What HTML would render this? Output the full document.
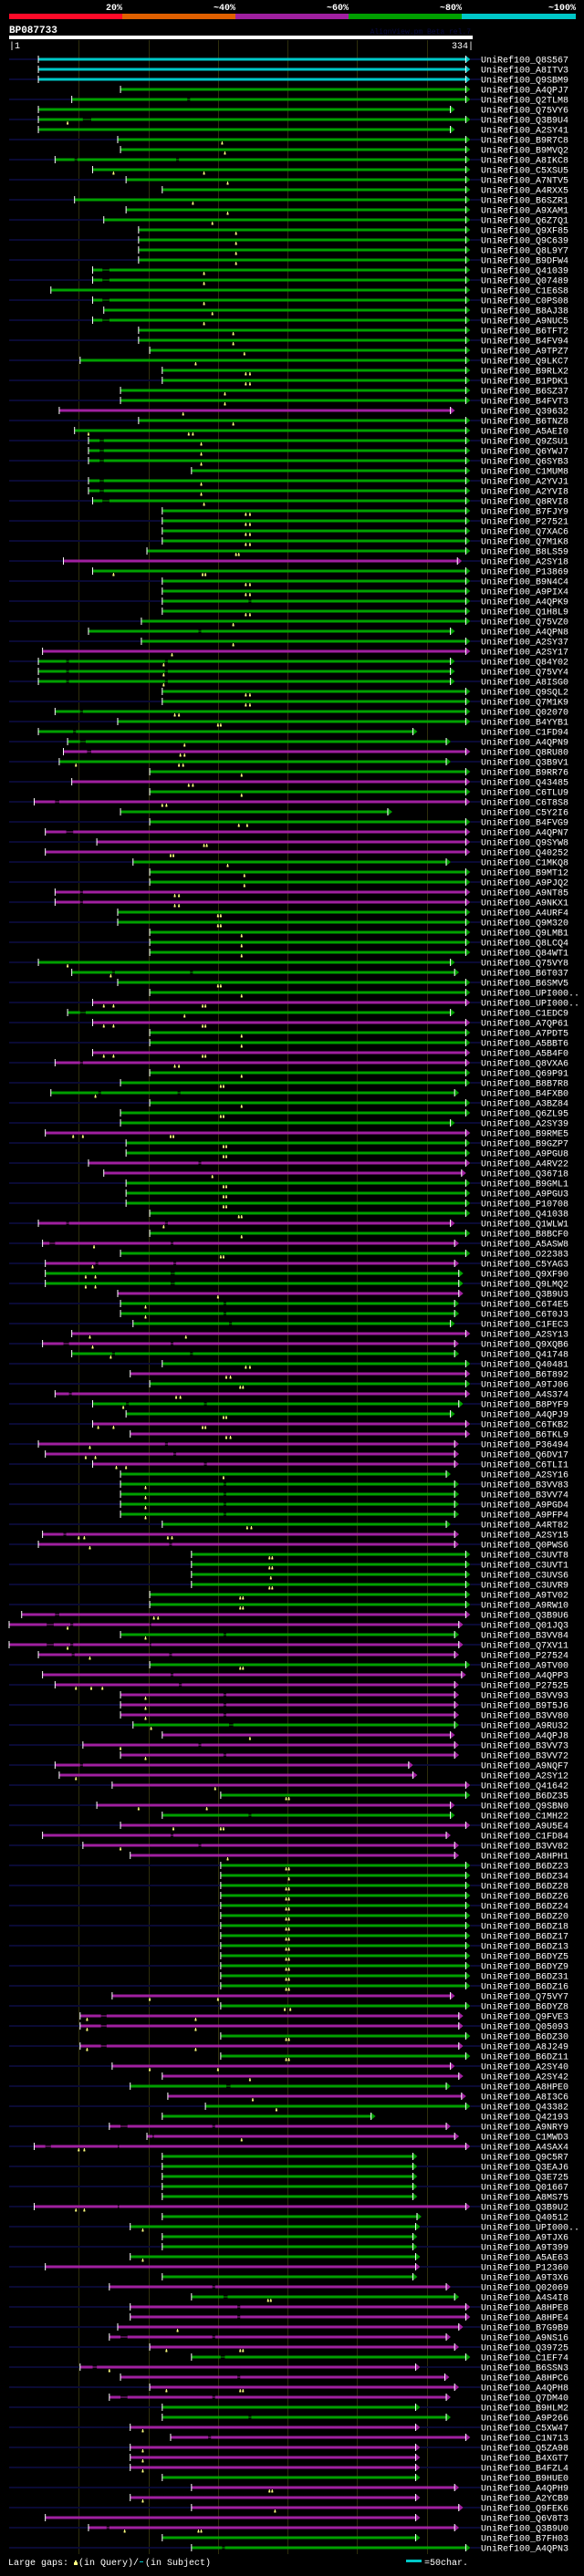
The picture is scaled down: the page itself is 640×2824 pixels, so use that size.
<!DOCTYPE html>
<html><head><meta charset="utf-8">
<style>
html,body{margin:0;padding:0;background:#000;}
body{width:640px;height:2819px;overflow:hidden;}
svg text{font-family:"Liberation Mono","DejaVu Sans Mono",monospace;}
</style></head>
<body>
<svg id="chart" width="640" height="2819" xmlns="http://www.w3.org/2000/svg">
<rect x="0" y="0" width="640" height="2819" fill="#000"/>
<g>
<rect x="10" y="15" width="124" height="6" fill="#ff0a28"/>
<rect x="134" y="15" width="124" height="6" fill="#e06000"/>
<rect x="258" y="15" width="124" height="6" fill="#a020a0"/>
<rect x="382" y="15" width="124" height="6" fill="#00a000"/>
<rect x="506" y="15" width="125" height="6" fill="#00c8c8"/>
<text x="134" y="11" fill="#fff" font-size="10" font-weight="bold" text-anchor="end">20%</text>
<text x="258" y="11" fill="#fff" font-size="10" font-weight="bold" text-anchor="end">~40%</text>
<text x="382" y="11" fill="#fff" font-size="10" font-weight="bold" text-anchor="end">~60%</text>
<text x="506" y="11" fill="#fff" font-size="10" font-weight="bold" text-anchor="end">~80%</text>
<text x="631" y="11" fill="#fff" font-size="10" font-weight="bold" text-anchor="end">~100%</text>
</g>
<text x="10" y="36" fill="#fff" font-size="11" font-weight="bold">BP087733</text>
<text x="516" y="37" fill="#0a0a40" font-size="8" text-anchor="end">AlignView.pm Beta rel.7</text>
<rect x="10" y="39" width="508" height="4" fill="#fff"/>
<text x="10" y="53" fill="#fff" font-size="10">|1</text>
<text x="519" y="53" fill="#fff" font-size="10" text-anchor="end">334|</text>
<g id="grid"></g>
<g id="rows"></g>
<g>
<text x="9" y="2812" fill="#fff" font-size="10">Large gaps:</text>
<rect x="82" y="2807" width="2" height="2" fill="#ffff80"/><rect x="81" y="2809" width="4" height="3" fill="#ffff80"/>
<text x="86" y="2812" fill="#fff" font-size="10">(in Query)/</text>
<rect x="153" y="2808" width="4" height="1" fill="#00c8c8"/>
<text x="159" y="2812" fill="#fff" font-size="10">(in Subject)</text>
<rect x="445" y="2806" width="17" height="3" fill="#00c8c8"/>
<text x="465" y="2812" fill="#fff" font-size="10">=50char.</text>
</g>
</svg>
<script>
const queryLen = 334;
const gridTicks = [51,101,151,201,251,301];
// rows: [name, colour, leftExt, start, end, gaps[[a,b]], queryGapMarks[]]
const rows = [
["Q8S567","c",1,22,329,[],[]],["A8ITV3","c",0,22,329,[],[]],["Q9SBM9","c",1,22,329,[],[]],
["A4QPJ7","g",0,81,329,[],[]],["Q2TLM8","g",1,46,329,[[129,131]],[]],["Q75VY6","g",0,22,318,[],[]],
["Q3B9U4","g",1,22,329,[[54,60]],[43]],["A2SY41","g",0,22,318,[],[]],["B9R7C8","g",1,79,329,[],[154]],
["B9MVQ2","g",0,81,329,[],[156]],["A8IKC8","g",1,34,329,[[48,50],[121,123]],[]],["C5XSU5","g",0,61,329,[],[76,141]],
["A7NTV5","g",1,85,329,[],[158]],["A4RXX5","g",0,111,329,[],[]],["B6SZR1","g",1,48,329,[],[133]],
["A9XAM1","g",0,85,329,[],[158]],["Q6Z7Q1","g",1,69,329,[],[147]],["Q9XF85","g",0,94,329,[],[164]],
["Q9C639","g",1,94,329,[],[164]],["Q8L9Y7","g",0,94,329,[],[164]],["B9DFW4","g",1,94,329,[],[164]],
["Q41039","g",0,61,329,[[68,73]],[141]],["Q07489","g",1,61,329,[[68,73]],[141]],["C1E6S8","g",0,31,329,[],[]],
["C0PS08","g",1,61,329,[[68,73]],[141]],["B8AJ38","g",0,69,329,[],[147]],["A9NUC5","g",1,61,329,[[68,73]],[141]],
["B6TFT2","g",0,94,329,[],[162]],["B4FV94","g",1,94,329,[],[162]],["A9TPZ7","g",0,102,329,[],[170]],
["Q9LKC7","g",1,52,329,[],[135]],["B9RLX2","g",0,111,329,[],[171,174]],["B1PDK1","g",1,111,329,[],[171,174]],
["B6SZ37","g",0,81,329,[],[156]],["B4FVT3","g",1,81,329,[],[156]],["Q39632","m",0,37,318,[],[126]],
["B6TNZ8","g",1,94,329,[],[162]],["A5AEI0","g",0,48,329,[],[58,130,133]],["Q9ZSU1","g",1,58,329,[[66,69]],[139]],
["Q6YWJ7","g",0,58,329,[[66,69]],[139]],["Q6SYB3","g",1,58,329,[[66,69]],[139]],["C1MUM8","g",0,132,329,[],[]],
["A2YVJ1","g",1,58,329,[[66,69]],[139]],["A2YVI8","g",0,58,329,[[66,69]],[139]],["Q8RVI8","g",1,61,329,[[68,73]],[141]],
["B7FJY9","g",0,111,329,[],[171,174]],["P27521","g",1,111,329,[],[171,174]],["Q7XAC6","g",0,111,329,[],[171,174]],
["Q7M1K8","g",1,111,329,[],[171,174]],["B8LS59","g",0,100,329,[],[164,166]],["A2SY18","m",1,40,323,[],[]],
["P13869","g",0,61,329,[],[76,140,142]],["B9N4C4","g",1,111,329,[],[171,174]],["A9PIX4","g",0,111,329,[],[171,174]],
["A4QPK9","g",1,111,329,[[173,175]],[]],["Q1H8L9","g",0,111,329,[],[171,174]],["Q75VZ0","g",1,96,329,[],[162]],
["A4QPN8","g",0,58,318,[[137,139]],[]],["A2SY37","g",1,96,329,[],[162]],["A2SY17","m",0,25,329,[],[118]],
["Q84Y02","g",1,22,318,[[42,44],[113,115]],[112]],["Q75VY4","g",0,22,318,[[42,44],[113,115]],[112]],["A8ISG0","g",1,22,318,[[42,44],[113,115]],[112]],
["Q9SQL2","g",0,111,329,[],[171,174]],["Q7M1K9","g",1,111,329,[],[171,174]],["Q02070","g",0,34,329,[[52,54]],[120,123]],
["B4YYB1","g",1,79,329,[],[151,153]],["C1FD94","g",0,22,291,[[47,49]],[]],["A4QPN9","g",1,43,315,[[52,56]],[127]],
["Q8RU80","m",0,40,329,[[57,60]],[124,127]],["Q3B9V1","g",1,37,315,[],[49,123,126]],["B9RR76","g",0,102,329,[],[168]],
["Q43485","m",1,46,329,[],[130,133]],["C6TLU9","g",0,102,329,[],[168]],["C6T8S8","m",1,19,329,[[34,37]],[111,114]],
["C5Y2I6","g",0,81,273,[],[]],["B4FVG9","g",1,102,329,[],[166,172]],["A4QPN7","m",0,27,329,[[42,47]],[]],
["Q9SYW8","m",1,64,329,[],[141,143]],["Q40252","m",0,27,329,[],[117,119]],["C1MKQ8","g",1,90,315,[],[158]],
["B9MT12","g",0,102,329,[],[170]],["A9PJQ2","g",1,102,329,[],[170]],["A9NT85","m",0,34,329,[[52,54]],[120,123]],
["A9NKX1","m",1,34,329,[[52,54]],[120,123]],["A4URF4","g",0,79,329,[],[151,153]],["Q9M320","g",1,79,329,[],[151,153]],
["Q9LMB1","g",0,102,329,[],[168]],["Q8LCQ4","g",1,102,329,[],[168]],["Q84WT1","g",0,102,329,[],[168]],
["Q75VY8","g",1,22,318,[],[43]],["B6T037","g",0,46,321,[[75,77],[131,133]],[74]],["B6SMV5","g",1,79,329,[],[151,153]],
["UPI000..","g",0,102,329,[],[168]],["UPI000..","m",1,61,329,[],[69,76,140,142]],["C1EDC9","g",0,43,318,[[52,56]],[127]],
["A7QP61","m",1,61,329,[],[69,76,140,142]],["A7PDT5","g",0,102,329,[],[168]],["A5BBT6","g",1,102,329,[],[168]],
["A5B4F0","m",0,61,329,[],[69,76,140,142]],["Q8VXA6","m",1,34,329,[[52,54]],[120,123]],["Q69P91","g",0,102,329,[],[168]],
["B8B7R8","g",1,81,329,[],[153,155]],["B4FXB0","g",0,31,321,[[65,67],[122,124]],[63]],["A3BZ84","g",1,102,329,[],[168]],
["Q6ZL95","g",0,81,329,[],[153,155]],["A2SY39","g",1,81,318,[],[]],["B9RME5","m",0,27,329,[],[47,54,117,119]],
["B9GZP7","g",1,85,329,[],[155,157]],["A9PGU8","g",0,85,329,[],[155,157]],["A4RV22","m",1,58,329,[[137,139]],[]],
["Q36718","m",0,69,326,[],[147]],["B9GML1","g",1,85,329,[],[155,157]],["A9PGU3","g",0,85,329,[],[155,157]],
["P10708","g",1,85,329,[],[155,157]],["Q41038","g",0,102,329,[],[166,168]],["Q1WLW1","m",1,22,318,[[42,44],[113,115]],[112]],
["B8BCF0","g",0,102,329,[],[168]],["A5ASW8","m",1,25,321,[[30,34],[117,119]],[62]],["O22383","g",0,81,329,[],[153,155]],
["C5YAG3","m",1,27,321,[[63,65],[119,121]],[61]],["Q9XF90","g",0,27,324,[[117,120]],[56,63]],["Q9LMQ2","g",1,27,324,[[117,120]],[56,63]],
["Q3B9U3","m",0,79,324,[],[151]],["C6T4E5","g",1,81,321,[[155,157]],[99]],["C6T0J3","g",0,81,321,[[155,157]],[99]],
["C1FEC3","g",1,90,318,[[159,161]],[]],["A2SY13","m",0,46,329,[],[59,128]],["Q9XQB6","m",1,25,321,[[40,44],[117,119]],[61]],
["Q41748","g",0,46,321,[[75,77],[131,133]],[74]],["Q40481","g",1,111,329,[],[171,174]],["B6T892","m",0,88,329,[],[157,160]],
["A9TJ06","g",1,102,329,[],[167,169]],["A4S374","m",0,34,329,[[44,46]],[121,124]],["B8PYF9","g",1,61,324,[[85,87],[141,143]],[83]],
["A4QPJ9","g",0,85,318,[],[155,157]],["C6TKB2","m",1,61,329,[],[65,76,140,142]],["B6TKL9","m",0,88,329,[],[157,160]],
["P36494","m",1,22,321,[[113,115]],[59]],["Q6DV17","m",0,27,321,[[119,121]],[56,63]],["C6TLI1","m",1,61,321,[[141,143]],[78,85]],
["A2SY16","g",0,81,315,[],[155]],["B3VV83","g",1,81,321,[[155,157]],[99]],["B3VV74","g",0,81,321,[[155,157]],[99]],
["A9PGD4","g",1,81,321,[[155,157]],[99]],["A9PFP4","g",0,81,321,[[155,157]],[99]],["A4RT82","g",1,111,315,[],[172,175]],
["A2SY15","m",0,25,321,[[40,42]],[51,55,115,118]],["Q0PWS6","m",1,22,321,[[116,118]],[59]],["C3UVT8","g",0,132,329,[],[188,190]],
["C3UVT1","g",1,132,329,[],[188,190]],["C3UVS6","g",0,132,329,[],[189]],["C3UVR9","g",1,132,329,[],[188,190]],
["A9TV02","g",0,102,329,[],[167,169]],["A9RW10","g",1,102,329,[],[167,169]],["Q3B9U6","m",0,10,329,[[34,37]],[105,108]],
["Q01JQ3","m",1,1,324,[[28,33],[45,47],[102,103]],[43]],["B3VV84","g",0,81,321,[[155,157]],[99]],["Q7XV11","m",1,1,324,[[28,33],[45,47],[102,103]],[43]],
["P27524","m",0,22,321,[[46,48],[116,118]],[59]],["A9TV00","g",1,102,329,[],[167,169]],["A4QPP3","m",0,25,326,[[117,119]],[]],
["P27525","m",1,34,321,[[123,125]],[49,60,68]],["B3VV93","m",0,81,321,[[155,157]],[99]],["B9T5J6","m",1,81,321,[[155,157]],[99]],
["B3VV80","m",0,81,321,[[155,157]],[99]],["A9RU32","g",1,90,321,[[159,162]],[103]],["A4QPJ8","m",0,111,318,[],[174]],
["B3VV73","m",1,54,321,[[137,139]],[81]],["B3VV72","m",0,81,321,[[155,157]],[99]],["A9NQF7","m",1,34,288,[[52,54]],[]],
["A2SY12","m",0,37,291,[],[49]],["Q41642","m",1,75,329,[],[149]],["B6DZ35","g",0,153,329,[],[200,202]],
["Q9SBN0","m",1,64,318,[],[94,143]],["C1MH22","g",0,111,318,[[173,175]],[]],["A9U5E4","m",1,81,329,[],[119,153,155]],
["C1FD84","m",0,25,315,[[117,119]],[]],["B3VV82","m",1,54,321,[[137,139]],[81]],["A8HPH1","m",0,88,321,[],[158]],
["B6DZ23","g",1,153,329,[],[200,202]],["B6DZ34","g",0,153,329,[],[202]],["B6DZ28","g",1,153,329,[],[200,202]],
["B6DZ26","g",0,153,329,[],[200,202]],["B6DZ24","g",1,153,329,[],[200,202]],["B6DZ20","g",0,153,329,[],[200,202]],
["B6DZ18","g",1,153,329,[],[200,202]],["B6DZ17","g",0,153,329,[],[200,202]],["B6DZ13","g",1,153,329,[],[200,202]],
["B6DYZ5","g",0,153,329,[],[200,202]],["B6DYZ9","g",1,153,329,[],[200,202]],["B6DZ31","g",0,153,329,[],[200,202]],
["B6DZ16","g",1,153,329,[],[200,202]],["Q75VY7","m",0,75,318,[],[102,151]],["B6DYZ8","g",1,153,329,[],[199,203]],
["Q9FVE3","m",0,52,324,[[67,71]],[57,135]],["Q05093","m",1,52,324,[[67,71]],[57,135]],["B6DZ30","g",0,153,329,[],[200,202]],
["A8J249","m",1,52,324,[[67,71]],[57,135]],["B6DZ11","g",0,153,329,[],[200,202]],["A2SY40","m",1,75,318,[],[102,151]],
["A2SY42","m",0,111,324,[],[174]],["A8HPE0","g",1,88,315,[[157,160]],[]],["A8I3C6","m",0,115,326,[],[176]],
["Q43382","g",1,142,329,[],[193]],["Q42193","g",0,111,261,[],[]],["A9NRY9","m",1,73,315,[[81,86],[147,149]],[]],
["C1MWD3","m",0,100,321,[[104,105]],[168]],["A4SAX4","m",1,19,329,[[27,31],[79,80]],[51,55]],["Q9C5R7","g",0,111,291,[],[]],
["Q3EAJ6","g",1,111,291,[],[]],["Q3E725","g",0,111,291,[],[]],["Q01667","g",1,111,291,[],[]],
["A8MS75","g",0,111,291,[],[]],["Q3B9U2","m",1,19,329,[[79,80]],[49,55]],["Q40512","g",0,111,294,[],[]],
["UPI000..","g",1,88,293,[],[97]],["A9TJX6","g",0,111,291,[],[]],["A9T399","g",1,111,291,[],[]],
["A5AE63","g",0,88,293,[],[97]],["P12360","m",1,27,293,[],[]],["A9T3X6","g",0,111,291,[],[]],
["Q02069","m",1,73,315,[[147,149]],[]],["A4S4I8","g",0,132,321,[[155,158]],[187,189]],["A8HPE8","m",1,88,329,[[165,167]],[]],
["A8HPE4","m",0,88,329,[[165,167]],[]],["B7G9B9","m",1,79,324,[],[122]],["A9NS16","m",0,73,315,[[81,86],[147,149]],[]],
["Q39725","m",1,102,321,[],[114,167,169]],["C1EF74","g",0,132,329,[[153,156]],[]],["B6SSN3","m",1,52,293,[[61,64]],[73]],
["A8HPC6","m",0,81,314,[[165,167]],[]],["A4QPH8","m",1,102,321,[],[114,167,169]],["Q7DM40","m",0,73,315,[[81,86],[147,149]],[]],
["B9HLM2","g",1,111,293,[],[]],["A9P266","g",0,111,315,[[173,175]],[]],["C5XW47","m",1,88,293,[],[97]],
["C1N713","m",0,117,329,[[144,146]],[]],["Q5ZA98","m",1,88,293,[],[97]],["B4XGT7","m",0,88,293,[],[97]],
["B4FZL4","m",1,88,293,[],[97]],["B9HUE0","g",0,111,293,[],[]],["A4QPH9","m",1,132,321,[],[188,190]],
["A2YCB9","m",0,88,293,[],[97]],["Q9FEK6","m",1,132,324,[],[192]],["Q6V8T3","m",0,27,293,[],[]],
["Q3B9U0","m",1,58,321,[[71,73]],[84,137,139]],["B7FH03","g",0,111,293,[],[]],["A4QPN3","g",1,132,329,[[154,156]],[]]
];
const palette = {c:"#00c8c8", g:"#00a000", m:"#a020a0"};
const NS = "http://www.w3.org/2000/svg";
function xs(p){ return 10 + (p-1)*508/(queryLen-1); }
function ys(i){ return 65 + i*11; }
function mk(tag, attrs, parent){
  const e = document.createElementNS(NS, tag);
  for (const k in attrs) e.setAttribute(k, attrs[k]);
  parent.appendChild(e); return e;
}
const grid = document.getElementById('grid');
gridTicks.forEach(t => {
  const l = mk('rect', {x: Math.round(xs(t)), y: 44, width: 1, height: 2756, fill: '#2e2e0c'}, grid);
  
  
});
const rg = document.getElementById('rows');
rows.forEach((r, i) => {
  const [name, col, L, s, e, gaps, marks] = r;
  const y = ys(i), c = palette[col];
  const g = mk('g', {}, rg);
  
  
  const x0 = xs(s), x1 = xs(e);
  if (L) {
    mk('rect', {x: 10, y: y-1, width: Math.max(0, x0-10), height: 2, fill: '#0a0a34'}, g);
    mk('rect', {x: x1+5, y: y-1, width: 527-(x1+5), height: 2, fill: '#0a0a34'}, g);
  }
  // thick alignment bar with gaps
  let cur = x0;
  const segs = [];
  gaps.forEach(([a,b]) => { segs.push([cur, xs(a)]); cur = xs(b); 
    mk('rect', {x: xs(a), y: y-0.5, width: xs(b)-xs(a), height: 1, fill: c}, g); });
  segs.push([cur, x1]);
  segs.forEach(([a,b]) => mk('rect', {x: a, y: y-1.5, width: Math.max(0,b-a), height: 3, fill: c}, g));
  mk('polygon', {points: `${x1},${y-4} ${x1+5},${y} ${x1},${y+4}`, fill: c}, g);
  mk('rect', {x: x1-0.5, y: y-4, width: 1, height: 8, fill: '#fff'}, g);
  mk('rect', {x: x0-0.5, y: y-4, width: 1, height: 8, fill: '#fff'}, g);
  marks.forEach(m => {
    const mx = xs(m);
    const mm = mk('g', {}, g);
    
    
    mk('rect', {x: mx-0.5, y: y+2, width: 1, height: 2, fill: '#ffff80'}, mm);
    mk('rect', {x: mx-1, y: y+3.5, width: 2, height: 2, fill: '#ffff80'}, mm);
  });
  const t = mk('text', {x: 527, y: y+3.5, fill: '#fff', 'font-size': 10}, g);
  t.textContent = 'UniRef100_' + name;
  
  
});
</script>
</body></html>
